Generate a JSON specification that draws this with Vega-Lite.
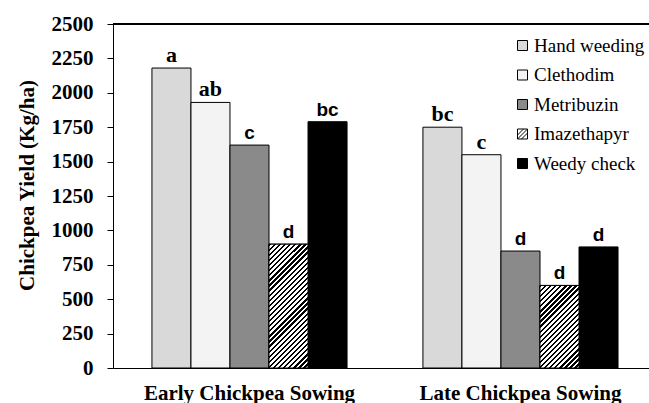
{
  "$schema": "https://vega.github.io/schema/vega-lite/v6.json",
  "width": 536,
  "height": 344,
  "autosize": {"type": "none"},
  "padding": {"left": 113, "top": 24, "right": 0, "bottom": 35},
  "background": "white",
  "config": {"view": {"stroke": null}},
  "data": {
    "values": [
      {"sowing": "Early Chickpea Sowing", "treatment": "Hand weeding", "yield": 2180, "letter": "a"},
      {"sowing": "Early Chickpea Sowing", "treatment": "Clethodim", "yield": 1930, "letter": "ab"},
      {"sowing": "Early Chickpea Sowing", "treatment": "Metribuzin", "yield": 1620, "letter": "c"},
      {"sowing": "Early Chickpea Sowing", "treatment": "Imazethapyr", "yield": 900, "letter": "d"},
      {"sowing": "Early Chickpea Sowing", "treatment": "Weedy check", "yield": 1790, "letter": "bc"},
      {"sowing": "Late Chickpea Sowing", "treatment": "Hand weeding", "yield": 1750, "letter": "bc"},
      {"sowing": "Late Chickpea Sowing", "treatment": "Clethodim", "yield": 1550, "letter": "c"},
      {"sowing": "Late Chickpea Sowing", "treatment": "Metribuzin", "yield": 850, "letter": "d"},
      {"sowing": "Late Chickpea Sowing", "treatment": "Imazethapyr", "yield": 600, "letter": "d"},
      {"sowing": "Late Chickpea Sowing", "treatment": "Weedy check", "yield": 880, "letter": "d"}
    ]
  },
  "encoding": {
    "x": {
      "field": "sowing", "type": "nominal", "sort": null,
      "scale": {"paddingInner": 0.28, "paddingOuter": 0.129, "align": 0.557},
      "axis": {
        "title": null, "labelAngle": 0, "ticks": false, "domainColor": "black",
        "labelFont": "Liberation Serif", "labelFontWeight": "bold", "labelFontSize": 21,
        "labelColor": "black", "labelPadding": 14, "labelLimit": 0
      }
    },
    "xOffset": {
      "field": "treatment", "type": "nominal",
      "scale": {"domain": ["Hand weeding", "Clethodim", "Metribuzin", "Imazethapyr", "Weedy check"], "paddingInner": 0, "paddingOuter": 0}
    },
    "y": {
      "field": "yield", "type": "quantitative",
      "scale": {"domain": [0, 2500], "nice": false},
      "axis": {
        "title": "Chickpea Yield (Kg/ha)", "values": [0, 250, 500, 750, 1000, 1250, 1500, 1750, 2000, 2250, 2500],
        "format": "d", "grid": false, "domainColor": "black", "tickColor": "black", "tickSize": 6,
        "labelFont": "Liberation Serif", "labelFontWeight": "bold", "labelFontSize": 21, "labelColor": "black",
        "labelPadding": 14,
        "titleFont": "Liberation Serif", "titleFontWeight": "bold", "titleFontSize": 21, "titleColor": "black",
        "titlePadding": 14, "titleY": 161
      }
    }
  },
  "layer": [
    {
      "mark": {"type": "bar", "stroke": "black", "strokeWidth": 1},
      "encoding": {
        "fill": {
          "field": "treatment", "type": "nominal",
          "scale": {
            "domain": ["Hand weeding", "Clethodim", "Metribuzin", "Imazethapyr", "Weedy check"],
            "range": ["#d9d9d9", "#f3f3f3", "#8a8a8a", "#7f7f7f", "#000000"]
          },
          "legend": {
            "title": null, "orient": "none", "legendX": 400, "legendY": 12, "padding": 0,
            "symbolType": "square", "symbolSize": 100, "symbolStrokeColor": "black", "symbolStrokeWidth": 1,
            "symbolOpacity": 1, "labelFont": "Liberation Serif", "labelFontSize": 19, "labelColor": "black",
            "labelOffset": 2, "rowPadding": 9.5,
            "encode": {
              "symbols": {
                "update": {
                  "stroke": {"value": "black"},
                  "strokeWidth": {"value": 1},
                  "fillOpacity": [
                    {"test": "datum.label === 'Imazethapyr'", "value": 0},
                    {"value": 1}
                  ],
                  "shape": [
                    {"test": "datum.label === 'Imazethapyr'", "value": "M-1,-1H1V1H-1Z M-1,0.2L0.2,-1 M-1,1L1,-1 M-0.2,1L1,-0.2"},
                    {"value": "square"}
                  ]
                }
              }
            }
          }
        }
      }
    },
    {
      "transform": [{"filter": "datum.treatment === 'Imazethapyr' && datum.sowing === 'Early Chickpea Sowing'"}],
      "mark": {"type": "bar", "stroke": "black", "strokeWidth": 1,
        "fill": {"gradient": "linear", "x1": 0, "y1": 0, "x2": 0.3769, "y2": 1.1963, "stops": [
          {"offset":0,"color":"#000"},{"offset":0.0141,"color":"#000"},{"offset":0.0141,"color":"#fff"},{"offset":0.0313,"color":"#fff"},
          {"offset":0.0313,"color":"#000"},{"offset":0.0453,"color":"#000"},{"offset":0.0453,"color":"#fff"},{"offset":0.0625,"color":"#fff"},
          {"offset":0.0625,"color":"#000"},{"offset":0.0766,"color":"#000"},{"offset":0.0766,"color":"#fff"},{"offset":0.0938,"color":"#fff"},
          {"offset":0.0938,"color":"#000"},{"offset":0.1078,"color":"#000"},{"offset":0.1078,"color":"#fff"},{"offset":0.125,"color":"#fff"},
          {"offset":0.125,"color":"#000"},{"offset":0.1391,"color":"#000"},{"offset":0.1391,"color":"#fff"},{"offset":0.1563,"color":"#fff"},
          {"offset":0.1563,"color":"#000"},{"offset":0.1703,"color":"#000"},{"offset":0.1703,"color":"#fff"},{"offset":0.1875,"color":"#fff"},
          {"offset":0.1875,"color":"#000"},{"offset":0.2016,"color":"#000"},{"offset":0.2016,"color":"#fff"},{"offset":0.2188,"color":"#fff"},
          {"offset":0.2188,"color":"#000"},{"offset":0.2328,"color":"#000"},{"offset":0.2328,"color":"#fff"},{"offset":0.25,"color":"#fff"},
          {"offset":0.25,"color":"#000"},{"offset":0.2641,"color":"#000"},{"offset":0.2641,"color":"#fff"},{"offset":0.2813,"color":"#fff"},
          {"offset":0.2813,"color":"#000"},{"offset":0.2953,"color":"#000"},{"offset":0.2953,"color":"#fff"},{"offset":0.3125,"color":"#fff"},
          {"offset":0.3125,"color":"#000"},{"offset":0.3266,"color":"#000"},{"offset":0.3266,"color":"#fff"},{"offset":0.3438,"color":"#fff"},
          {"offset":0.3438,"color":"#000"},{"offset":0.3578,"color":"#000"},{"offset":0.3578,"color":"#fff"},{"offset":0.375,"color":"#fff"},
          {"offset":0.375,"color":"#000"},{"offset":0.3891,"color":"#000"},{"offset":0.3891,"color":"#fff"},{"offset":0.4063,"color":"#fff"},
          {"offset":0.4063,"color":"#000"},{"offset":0.4203,"color":"#000"},{"offset":0.4203,"color":"#fff"},{"offset":0.4375,"color":"#fff"},
          {"offset":0.4375,"color":"#000"},{"offset":0.4516,"color":"#000"},{"offset":0.4516,"color":"#fff"},{"offset":0.4688,"color":"#fff"},
          {"offset":0.4688,"color":"#000"},{"offset":0.4828,"color":"#000"},{"offset":0.4828,"color":"#fff"},{"offset":0.5,"color":"#fff"},
          {"offset":0.5,"color":"#000"},{"offset":0.5141,"color":"#000"},{"offset":0.5141,"color":"#fff"},{"offset":0.5313,"color":"#fff"},
          {"offset":0.5313,"color":"#000"},{"offset":0.5453,"color":"#000"},{"offset":0.5453,"color":"#fff"},{"offset":0.5625,"color":"#fff"},
          {"offset":0.5625,"color":"#000"},{"offset":0.5766,"color":"#000"},{"offset":0.5766,"color":"#fff"},{"offset":0.5938,"color":"#fff"},
          {"offset":0.5938,"color":"#000"},{"offset":0.6078,"color":"#000"},{"offset":0.6078,"color":"#fff"},{"offset":0.625,"color":"#fff"},
          {"offset":0.625,"color":"#000"},{"offset":0.6391,"color":"#000"},{"offset":0.6391,"color":"#fff"},{"offset":0.6563,"color":"#fff"},
          {"offset":0.6563,"color":"#000"},{"offset":0.6703,"color":"#000"},{"offset":0.6703,"color":"#fff"},{"offset":0.6875,"color":"#fff"},
          {"offset":0.6875,"color":"#000"},{"offset":0.7016,"color":"#000"},{"offset":0.7016,"color":"#fff"},{"offset":0.7188,"color":"#fff"},
          {"offset":0.7188,"color":"#000"},{"offset":0.7328,"color":"#000"},{"offset":0.7328,"color":"#fff"},{"offset":0.75,"color":"#fff"},
          {"offset":0.75,"color":"#000"},{"offset":0.7641,"color":"#000"},{"offset":0.7641,"color":"#fff"},{"offset":0.7813,"color":"#fff"},
          {"offset":0.7813,"color":"#000"},{"offset":0.7953,"color":"#000"},{"offset":0.7953,"color":"#fff"},{"offset":0.8125,"color":"#fff"},
          {"offset":0.8125,"color":"#000"},{"offset":0.8266,"color":"#000"},{"offset":0.8266,"color":"#fff"},{"offset":0.8438,"color":"#fff"},
          {"offset":0.8438,"color":"#000"},{"offset":0.8578,"color":"#000"},{"offset":0.8578,"color":"#fff"},{"offset":0.875,"color":"#fff"},
          {"offset":0.875,"color":"#000"},{"offset":0.8891,"color":"#000"},{"offset":0.8891,"color":"#fff"},{"offset":0.9063,"color":"#fff"},
          {"offset":0.9063,"color":"#000"},{"offset":0.9203,"color":"#000"},{"offset":0.9203,"color":"#fff"},{"offset":0.9375,"color":"#fff"},
          {"offset":0.9375,"color":"#000"},{"offset":0.9516,"color":"#000"},{"offset":0.9516,"color":"#fff"},{"offset":0.9688,"color":"#fff"},
          {"offset":0.9688,"color":"#000"},{"offset":0.9828,"color":"#000"},{"offset":0.9828,"color":"#fff"},{"offset":1,"color":"#fff"}
        ]}
      },
      "encoding": {}
    },
    {
      "transform": [{"filter": "datum.treatment === 'Imazethapyr' && datum.sowing === 'Late Chickpea Sowing'"}],
      "mark": {"type": "bar", "stroke": "black", "strokeWidth": 1,
        "fill": {"gradient": "linear", "x1": 0, "y1": 0, "x2": 0.5689, "y2": 1.2037, "stops": [
          {"offset":0,"color":"#000"},{"offset":0.0188,"color":"#000"},{"offset":0.0188,"color":"#fff"},{"offset":0.0417,"color":"#fff"},
          {"offset":0.0417,"color":"#000"},{"offset":0.0604,"color":"#000"},{"offset":0.0604,"color":"#fff"},{"offset":0.0833,"color":"#fff"},
          {"offset":0.0833,"color":"#000"},{"offset":0.1021,"color":"#000"},{"offset":0.1021,"color":"#fff"},{"offset":0.125,"color":"#fff"},
          {"offset":0.125,"color":"#000"},{"offset":0.1438,"color":"#000"},{"offset":0.1438,"color":"#fff"},{"offset":0.1667,"color":"#fff"},
          {"offset":0.1667,"color":"#000"},{"offset":0.1854,"color":"#000"},{"offset":0.1854,"color":"#fff"},{"offset":0.2083,"color":"#fff"},
          {"offset":0.2083,"color":"#000"},{"offset":0.2271,"color":"#000"},{"offset":0.2271,"color":"#fff"},{"offset":0.25,"color":"#fff"},
          {"offset":0.25,"color":"#000"},{"offset":0.2688,"color":"#000"},{"offset":0.2688,"color":"#fff"},{"offset":0.2917,"color":"#fff"},
          {"offset":0.2917,"color":"#000"},{"offset":0.3104,"color":"#000"},{"offset":0.3104,"color":"#fff"},{"offset":0.3333,"color":"#fff"},
          {"offset":0.3333,"color":"#000"},{"offset":0.3521,"color":"#000"},{"offset":0.3521,"color":"#fff"},{"offset":0.375,"color":"#fff"},
          {"offset":0.375,"color":"#000"},{"offset":0.3938,"color":"#000"},{"offset":0.3938,"color":"#fff"},{"offset":0.4167,"color":"#fff"},
          {"offset":0.4167,"color":"#000"},{"offset":0.4354,"color":"#000"},{"offset":0.4354,"color":"#fff"},{"offset":0.4583,"color":"#fff"},
          {"offset":0.4583,"color":"#000"},{"offset":0.4771,"color":"#000"},{"offset":0.4771,"color":"#fff"},{"offset":0.5,"color":"#fff"},
          {"offset":0.5,"color":"#000"},{"offset":0.5188,"color":"#000"},{"offset":0.5188,"color":"#fff"},{"offset":0.5417,"color":"#fff"},
          {"offset":0.5417,"color":"#000"},{"offset":0.5604,"color":"#000"},{"offset":0.5604,"color":"#fff"},{"offset":0.5833,"color":"#fff"},
          {"offset":0.5833,"color":"#000"},{"offset":0.6021,"color":"#000"},{"offset":0.6021,"color":"#fff"},{"offset":0.625,"color":"#fff"},
          {"offset":0.625,"color":"#000"},{"offset":0.6438,"color":"#000"},{"offset":0.6438,"color":"#fff"},{"offset":0.6667,"color":"#fff"},
          {"offset":0.6667,"color":"#000"},{"offset":0.6854,"color":"#000"},{"offset":0.6854,"color":"#fff"},{"offset":0.7083,"color":"#fff"},
          {"offset":0.7083,"color":"#000"},{"offset":0.7271,"color":"#000"},{"offset":0.7271,"color":"#fff"},{"offset":0.75,"color":"#fff"},
          {"offset":0.75,"color":"#000"},{"offset":0.7688,"color":"#000"},{"offset":0.7688,"color":"#fff"},{"offset":0.7917,"color":"#fff"},
          {"offset":0.7917,"color":"#000"},{"offset":0.8104,"color":"#000"},{"offset":0.8104,"color":"#fff"},{"offset":0.8333,"color":"#fff"},
          {"offset":0.8333,"color":"#000"},{"offset":0.8521,"color":"#000"},{"offset":0.8521,"color":"#fff"},{"offset":0.875,"color":"#fff"},
          {"offset":0.875,"color":"#000"},{"offset":0.8938,"color":"#000"},{"offset":0.8938,"color":"#fff"},{"offset":0.9167,"color":"#fff"},
          {"offset":0.9167,"color":"#000"},{"offset":0.9354,"color":"#000"},{"offset":0.9354,"color":"#fff"},{"offset":0.9583,"color":"#fff"},
          {"offset":0.9583,"color":"#000"},{"offset":0.9771,"color":"#000"},{"offset":0.9771,"color":"#fff"},{"offset":1,"color":"#fff"}
        ]}
      },
      "encoding": {}
    },
    {
      "transform": [{"filter": "datum.treatment === 'Hand weeding' || datum.treatment === 'Clethodim'"}],
      "mark": {"type": "text", "font": "Liberation Serif", "fontWeight": "bold", "fontSize": 22, "color": "black", "baseline": "alphabetic", "dy": -6},
      "encoding": {"text": {"field": "letter"}}
    },
    {
      "transform": [{"filter": "datum.treatment !== 'Hand weeding' && datum.treatment !== 'Clethodim'"}],
      "mark": {"type": "text", "font": "Liberation Sans", "fontWeight": "bold", "fontSize": 19, "color": "black", "baseline": "alphabetic", "dy": -6},
      "encoding": {"text": {"field": "letter"}}
    },
    {
      "mark": {"type": "rule", "color": "black", "strokeWidth": 1},
      "encoding": {"x": null, "xOffset": null, "y": {"datum": 2500}}
    }
  ]
}
